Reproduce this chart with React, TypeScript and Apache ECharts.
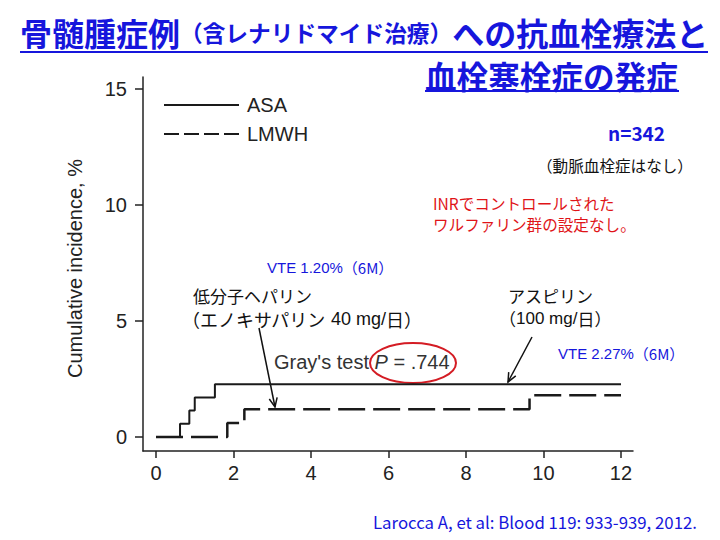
import React, { useEffect, useRef } from "react";
import * as echarts from "echarts";

// ---- data ----
const seriesNames = ["ASA", "LMWH"];
const asaSteps: [number, number][] = [
  [0, 0], [0.62, 0.57], [0.86, 1.14], [1.0, 1.7], [1.52, 2.27], [12, 2.27],
];
const lmwhSteps: [number, number][] = [
  [0, 0], [1.84, 0.6], [2.28, 1.2], [9.64, 1.8], [12, 1.8],
];
const xTicks = [0, 2, 4, 6, 8, 10, 12];
const yTicks = [0, 5, 10, 15];

const titleMain1 = "骨髄腫症例";
const titleParen = "（含レナリドマイド治療）";
const titleMain2 = "への抗血栓療法と";
const titleLine2 = "血栓塞栓症の発症";

const JP = '"Noto Sans CJK JP", "Noto Sans", sans-serif';
const LAT = '"Liberation Sans", Arial, sans-serif';
const BLUE = "#1616dc";
const RED = "#e01418";
const INK = "#222222";

function arrowHead(x1: number, y1: number, x2: number, y2: number, len = 9, half = 4) {
  const dx = x2 - x1, dy = y2 - y1;
  const L = Math.sqrt(dx * dx + dy * dy);
  const ux = dx / L, uy = dy / L;
  const bx = x2 - ux * len, by = y2 - uy * len;
  const px = -uy * half, py = ux * half;
  return [[bx + px, by + py], [x2, y2], [bx - px, by - py]];
}

export default function App() {
  const ref = useRef<HTMLDivElement>(null);
  useEffect(() => {
    document.body.style.margin = "0";
    if (!ref.current) return;
    const chart = echarts.init(ref.current, undefined, { renderer: "svg" });
    const lmwhArrow = [259, 328, 275, 407];
    const asaArrow = [532, 337, 508, 382];
    const option: any = {
      animation: false,
      backgroundColor: "#ffffff",
      grid: { left: 143, right: 87, top: 77, bottom: 89, containLabel: false },
      legend: {
        orient: "vertical",
        left: 158,
        top: 90,
        itemWidth: 75,
        itemHeight: 20,
        itemGap: 9,
        itemStyle: { opacity: 0 },
        textStyle: { fontSize: 20, color: INK, fontFamily: LAT, padding: [0, 0, 0, 3] },
        data: [
          { name: seriesNames[0] },
          { name: seriesNames[1], lineStyle: { type: [15, 5] } },
        ],
      },
      xAxis: {
        type: "value",
        min: -0.3355,
        max: 12.31,
        splitLine: { show: false },
        axisLine: { show: true, onZero: false, lineStyle: { color: INK, width: 1.5 } },
        axisTick: { show: true, inside: false, length: 7, customValues: xTicks, lineStyle: { color: INK, width: 1.5 } },
        axisLabel: { customValues: xTicks, fontSize: 20, color: INK, fontFamily: LAT, margin: 12 },
      },
      yAxis: {
        type: "value",
        min: -0.603,
        max: 15.517,
        name: "Cumulative incidence, %",
        nameLocation: "middle",
        nameGap: 58,
        nameTextStyle: { fontSize: 20, color: INK, fontFamily: LAT, padding: [0, 9, 0, 0] },
        splitLine: { show: false },
        axisLine: { show: true, onZero: false, lineStyle: { color: INK, width: 1.5 } },
        axisTick: { show: true, inside: false, length: 8, customValues: yTicks, lineStyle: { color: INK, width: 1.5 } },
        axisLabel: { customValues: yTicks, fontSize: 20, color: INK, fontFamily: LAT, margin: 16 },
      },
      series: [
        {
          name: seriesNames[0],
          type: "line",
          step: "end",
          symbol: "none",
          data: asaSteps,
          lineStyle: { color: "#1a1a1a", width: 2 },
          itemStyle: { color: "#1a1a1a" },
        },
        {
          name: seriesNames[1],
          type: "line",
          step: "end",
          symbol: "none",
          data: lmwhSteps,
          lineStyle: { color: "#1a1a1a", width: 2.5, type: [27, 8] },
          itemStyle: { color: "#1a1a1a" },
        },
      ],
      graphic: [
        {
          type: "text",
          left: 20,
          top: 16,
          style: {
            text: `{a|${titleMain1}}{b|${titleParen}}{a|${titleMain2}}`,
            rich: {
              a: { fontSize: 32, lineHeight: 36, fontWeight: "bold", fontFamily: JP, fill: BLUE },
              b: { fontSize: 22.7, lineHeight: 36, fontWeight: "bold", fontFamily: JP, fill: BLUE },
            },
          },
        },
        { type: "line", shape: { x1: 20, y1: 52, x2: 708, y2: 52 }, style: { stroke: BLUE, lineWidth: 2 } },
        {
          type: "text",
          x: 425,
          y: 74.5,
          style: { text: titleLine2, fontSize: 31.6, lineHeight: 32, fontWeight: "bold", fontFamily: JP, fill: BLUE, verticalAlign: "middle" },
        },
        { type: "line", shape: { x1: 425, y1: 91, x2: 679, y2: 91 }, style: { stroke: BLUE, lineWidth: 2 } },
        {
          type: "text", x: 608, y: 132,
          style: { text: "n=342", fontSize: 19, fontWeight: "bold", fontFamily: JP, fill: BLUE, verticalAlign: "middle" },
        },
        {
          type: "text", x: 537, y: 165,
          style: { text: "（動脈血栓症はなし）", fontSize: 15.6, fontFamily: JP, fill: "#111", verticalAlign: "middle" },
        },
        {
          type: "text", x: 433, y: 203,
          style: { text: "INRでコントロールされた", fontSize: 15.6, fontFamily: JP, fill: RED, verticalAlign: "middle" },
        },
        {
          type: "text", x: 433, y: 224,
          style: { text: "ワルファリン群の設定なし。", fontSize: 15.6, fontFamily: JP, fill: RED, verticalAlign: "middle" },
        },
        {
          type: "text", x: 267, y: 267,
          style: {
            text: "{l|VTE 1.20%}{j|（6M）}",
            verticalAlign: "middle",
            rich: {
              l: { fontSize: 15, fontFamily: LAT, fill: BLUE },
              j: { fontSize: 15, fontFamily: JP, fill: BLUE },
            },
          },
        },
        {
          type: "text", x: 558, y: 353,
          style: {
            text: "{l|VTE 2.27%}{j|（6M）}",
            verticalAlign: "middle",
            rich: {
              l: { fontSize: 15, fontFamily: LAT, fill: BLUE },
              j: { fontSize: 15, fontFamily: JP, fill: BLUE },
            },
          },
        },
        {
          type: "text", x: 193, y: 295,
          style: { text: "低分子ヘパリン", fontSize: 17, fontFamily: JP, fill: "#111", verticalAlign: "middle" },
        },
        {
          type: "text", x: 182, y: 319,
          style: {
            text: "{j|（エノキサパリン}{l| 40 mg/}{j|日）}",
            verticalAlign: "middle",
            rich: {
              l: { fontSize: 18, fontFamily: LAT, fill: "#111" },
              j: { fontSize: 18, fontFamily: JP, fill: "#111" },
            },
          },
        },
        {
          type: "text", x: 508, y: 295,
          style: { text: "アスピリン", fontSize: 17, fontFamily: JP, fill: "#111", verticalAlign: "middle" },
        },
        {
          type: "text", x: 499, y: 318,
          style: {
            text: "{j|（}{l|100 mg/}{j|日）}",
            verticalAlign: "middle",
            rich: {
              l: { fontSize: 17, fontFamily: LAT, fill: "#111" },
              j: { fontSize: 17, fontFamily: JP, fill: "#111" },
            },
          },
        },
        {
          type: "text", x: 274, y: 362,
          style: {
            text: "{n|Gray's test }{i|P}{n| = .744}",
            verticalAlign: "middle",
            rich: {
              n: { fontSize: 20, fontFamily: LAT, fill: "#333" },
              i: { fontSize: 20, fontFamily: LAT, fontStyle: "italic", fill: "#333" },
            },
          },
        },
        {
          type: "ellipse",
          shape: { cx: 413, cy: 363, rx: 43, ry: 20 },
          style: { fill: "none", stroke: "#d41c24", lineWidth: 2 },
        },
        {
          type: "line",
          shape: { x1: lmwhArrow[0], y1: lmwhArrow[1], x2: lmwhArrow[2], y2: lmwhArrow[3] },
          style: { stroke: "#111", lineWidth: 1.5 },
        },
        {
          type: "polyline",
          shape: { points: arrowHead(lmwhArrow[0], lmwhArrow[1], lmwhArrow[2], lmwhArrow[3]) },
          style: { stroke: "#111", lineWidth: 1.5, fill: "none" },
        },
        {
          type: "line",
          shape: { x1: asaArrow[0], y1: asaArrow[1], x2: asaArrow[2], y2: asaArrow[3] },
          style: { stroke: "#111", lineWidth: 1.5 },
        },
        {
          type: "polyline",
          shape: { points: arrowHead(asaArrow[0], asaArrow[1], asaArrow[2], asaArrow[3]) },
          style: { stroke: "#111", lineWidth: 1.5, fill: "none" },
        },
        {
          type: "text", x: 373, y: 522,
          style: { text: "Larocca A, et al: Blood 119: 933-939, 2012.", fontSize: 16.8, fontFamily: JP, fill: BLUE, verticalAlign: "middle" },
        },
      ],
    };
    chart.setOption(option);
    return () => chart.dispose();
  }, []);
  return <div ref={ref} style={{ width: 720, height: 540 }} />;
}
